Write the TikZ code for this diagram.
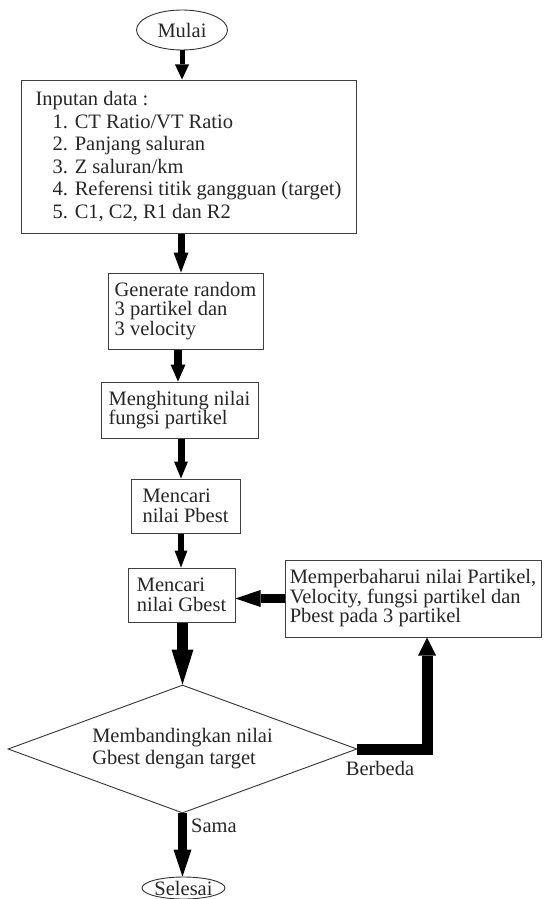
\documentclass[tikz,border=0pt]{standalone}
\usepackage{fontspec}
\setmainfont{Liberation Serif}
\usetikzlibrary{arrows.meta,shapes.geometric}
\begin{document}
\begin{tikzpicture}[x=1pt,y=-1pt,
  txt/.style={font=\fontsize{20.5}{19.5}\selectfont, text=black!85},
  box/.style={txt, draw=black!75, line width=1pt, fill=white, align=left, inner sep=0pt},
  term/.style={txt, ellipse, draw=black!80, line width=0.9pt, inner sep=0pt},
  decision/.style={txt, diamond, aspect=2.73, draw=black!80, line width=0.9pt, inner sep=0pt, align=left},
  conn/.style={draw=black, line join=miter}
]
\useasboundingbox[fill=white] (0,0) rectangle (547,899);

\node[term, minimum width=91pt, minimum height=40pt] (mulai) at (182,30) {Mulai};

\node[box, minimum width=335pt, minimum height=153pt,
      font=\fontsize{20.5}{22.6}\selectfont] (inputan) at (188.5,156.5)
  {Inputan data :\\
   \hspace*{17pt}1. CT Ratio/VT Ratio\\
   \hspace*{17pt}2. Panjang saluran\\
   \hspace*{17pt}3. Z saluran/km\\
   \hspace*{17pt}4. Referensi titik gangguan (target)\\
   \hspace*{17pt}5. C1, C2, R1 dan R2};

\node[box, minimum width=155pt, minimum height=76pt] (generate) at (185.5,311)
  {Generate random\\3 partikel dan\\3 velocity};

\node[box, minimum width=157pt, minimum height=56pt] (hitung) at (179.5,410)
  {Menghitung nilai\\fungsi partikel};

\node[box, minimum width=109pt, minimum height=54pt] (pbest) at (185.5,506)
  {Mencari\\nilai Pbest};

\node[box, minimum width=107pt, minimum height=54pt] (gbest) at (181.5,595)
  {Mencari\\nilai Gbest};

\node[box, minimum width=256pt, minimum height=77pt] (update) at (413,598.5)
  {Memperbaharui nilai Partikel,\\Velocity, fungsi partikel dan\\Pbest pada 3 partikel};

\node[decision, minimum width=349pt, minimum height=128pt,
      font=\fontsize{20.5}{22}\selectfont] (dec) at (182.5,749)
  {\raisebox{-7pt}{\begin{tabular}{@{}l@{}}Membandingkan nilai\\Gbest dengan target\end{tabular}}};

\node[term, minimum width=83pt, minimum height=22pt] (selesai) at (183.5,888) {Selesai};

\coordinate (ax) at (181,0);
\coordinate (bx) at (427,0);

\draw[conn, line width=5pt, -{Triangle[width=14pt,length=15pt,line width=0pt]}]
  (mulai.south) -- (inputan.north -| mulai.south);
\draw[conn, line width=7pt, -{Triangle[width=15pt,length=20pt,line width=0pt]}]
  (inputan.south -| ax) -- (generate.north -| ax);
\draw[conn, line width=8pt, -{Triangle[width=15pt,length=17pt,line width=0pt]}]
  ([xshift=-3pt]generate.south -| ax) -- ([xshift=-3pt]hitung.north -| ax);
\draw[conn, line width=7pt, -{Triangle[width=14pt,length=17pt,line width=0pt]}]
  (hitung.south -| ax) -- (pbest.north -| ax);
\draw[conn, line width=6pt, -{Triangle[width=13pt,length=17pt,line width=0pt]}]
  (pbest.south -| ax) -- (gbest.north -| ax);
\draw[conn, line width=11pt, -{Triangle[width=22pt,length=35pt,line width=0pt]}]
  (gbest.south -| dec.north) -- (dec.north);
\draw[conn, line width=9pt, -{Triangle[width=17pt,length=25pt,line width=0pt]}]
  (update.west) -- (gbest.east |- update.west);
\draw[conn, line width=11pt, -{Triangle[width=18pt,length=18pt,line width=0pt]}]
  (dec.east) -- (dec.east -| bx) -- (bx |- update.south);
\draw[conn, line width=9pt, -{Triangle[width=18pt,length=27pt,line width=0pt]}]
  (dec.south) -- (dec.south |- selesai.north);

\node[txt] (berbeda) at (380,768) {Berbeda};
\node[txt] (sama) at (214,826) {Sama};
\end{tikzpicture}
\end{document}
